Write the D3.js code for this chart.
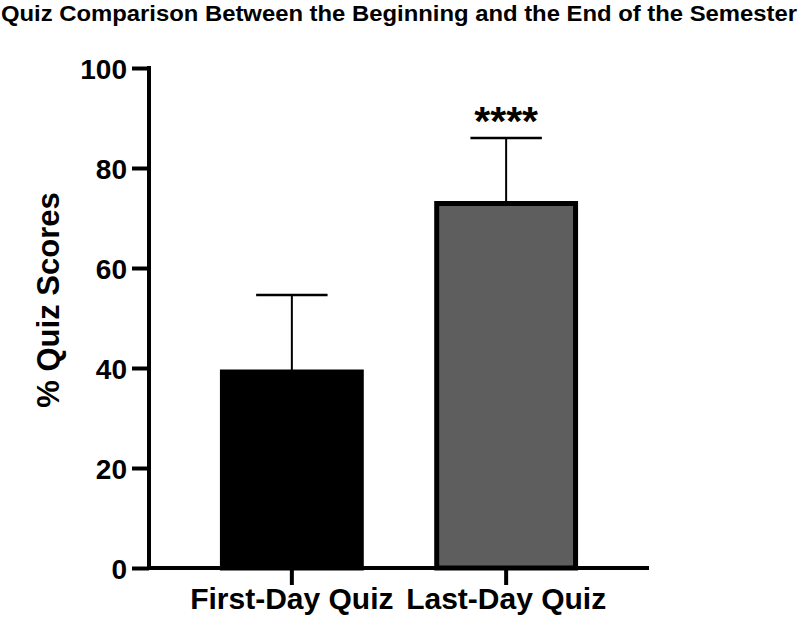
<!DOCTYPE html>
<html>
<head>
<meta charset="utf-8">
<script src="https://cdn.jsdelivr.net/npm/d3@7"></script>
<style>
  body { margin: 0; background: #fff; }
  text { font-family: "Liberation Sans", Arial, sans-serif; font-weight: bold; fill: #000; }
</style>
</head>
<body>
<svg id="chart" width="800" height="622"></svg>
<script>
// data
var categories = ['First-Day Quiz', 'Last-Day Quiz'];
var means = [39.2, 72.9];
var sds = [15.4, 13.1];
var fills = ['#000000', '#5e5e5e'];
var yTicks = [0, 20, 40, 60, 80, 100];
var sigLabel = '****';

var svg = d3.select('#chart');

var padding = {t: 68, r: 151, b: 54, l: 149};
var x0 = padding.l, x1 = 800 - padding.r;
var yBottom = 622 - padding.b;

var xScale = d3.scaleBand().domain(categories)
    .range([x0, x1]).paddingInner(1/3).paddingOuter(1/3);
var yScale = d3.scaleLinear().domain([0, 100]).range([yBottom, padding.t]);

// title
svg.append('text')
    .attr('x', 1).attr('y', 21)
    .attr('textLength', 796).attr('lengthAdjust', 'spacingAndGlyphs')
    .style('font-size', '22px')
    .text('Quiz Comparison Between the Beginning and the End of the Semester');

// bars
svg.selectAll('.bar')
    .data(categories)
    .enter()
    .append('rect')
    .attr('class', 'bar')
    .attr('x', function(d) { return xScale(d) + 2; })
    .attr('width', xScale.bandwidth() - 4)
    .attr('y', function(d, i) { return yScale(means[i]); })
    .attr('height', function(d, i) { return yBottom - yScale(means[i]); })
    .style('fill', function(d, i) { return fills[i]; })
    .style('stroke', '#000')
    .style('stroke-width', 5);

// error bars (upper only)
var err = svg.append('g').attr('class', 'errors');
categories.forEach(function(c, i) {
    var cx = xScale(c) + xScale.bandwidth() / 2;
    var capW = xScale.bandwidth() / 2;
    err.append('line')
        .attr('x1', cx).attr('x2', cx)
        .attr('y1', yScale(means[i])).attr('y2', yScale(means[i] + sds[i]))
        .style('stroke', '#000').style('stroke-width', 2);
    err.append('line')
        .attr('x1', cx - capW / 2).attr('x2', cx + capW / 2)
        .attr('y1', yScale(means[i] + sds[i])).attr('y2', yScale(means[i] + sds[i]))
        .style('stroke', '#000').style('stroke-width', 2.5);
});

// significance stars
svg.append('text')
    .attr('x', xScale(categories[1]) + xScale.bandwidth() / 2)
    .attr('y', yScale(means[1] + sds[1]) - 3)
    .attr('text-anchor', 'middle')
    .style('font-size', '41px')
    .text(sigLabel);

// y axis
var yAxis = d3.axisLeft(yScale).tickValues(yTicks).tickSize(17).tickPadding(5);
var gy = svg.append('g')
    .attr('transform', 'translate(' + x0 + ',0)')
    .call(yAxis);
gy.selectAll('text').style('font-size', '28px').attr('dy', '0.36em');

// x axis
var xAxis = d3.axisBottom(xScale).tickSize(17).tickPadding(3);
var gx = svg.append('g')
    .attr('transform', 'translate(0,' + yBottom + ')')
    .call(xAxis);
gx.selectAll('text').style('font-size', '30px').attr('dy', '0.71em');

svg.selectAll('.domain').attr('d', null);
svg.selectAll('.tick line').style('stroke', '#000').style('stroke-width', 4);
svg.append('line')
    .attr('x1', x0).attr('x2', x0).attr('y1', padding.t - 2).attr('y2', yBottom + 2)
    .style('stroke', '#000').style('stroke-width', 4);
svg.append('line')
    .attr('x1', x0 - 2).attr('x2', x1).attr('y1', yBottom).attr('y2', yBottom)
    .style('stroke', '#000').style('stroke-width', 4);

// y axis label
svg.append('text')
    .attr('transform', 'translate(' + [59, 300] + ')rotate(-90)')
    .attr('text-anchor', 'middle')
    .style('font-size', '31px')
    .text('% Quiz Scores');
</script>
</body>
</html>
